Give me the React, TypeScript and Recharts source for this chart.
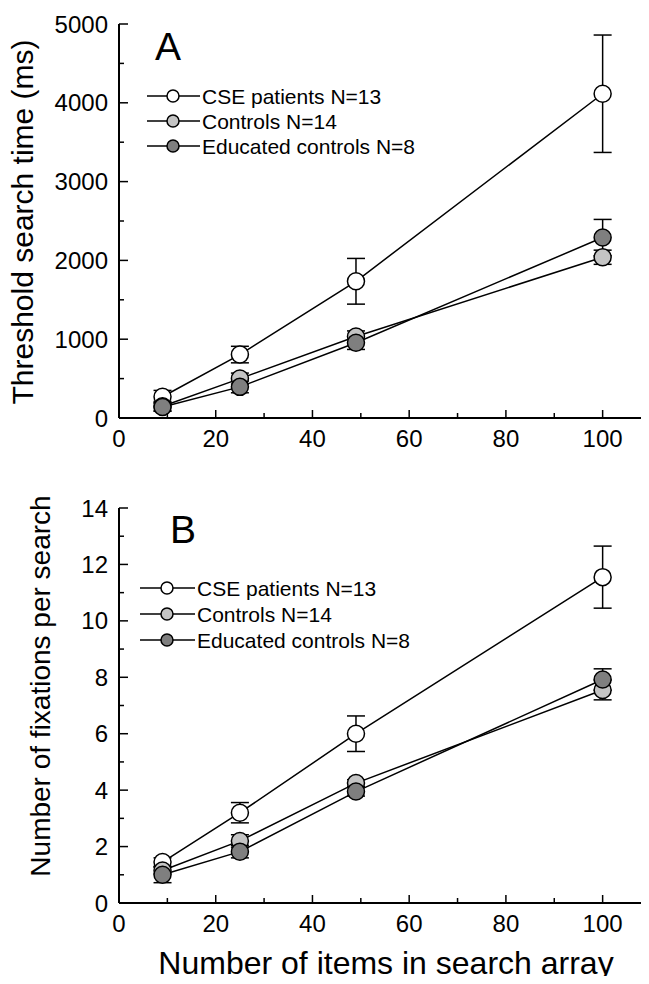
import React from "react";
import { LineChart, Line, XAxis, YAxis, ErrorBar } from "recharts";

// array sizes (number of items)
const items = [9, 25, 49, 100];

const groups = ["CSE patients N=13", "Controls N=14", "Educated controls N=8"];
const fills = ["#ffffff", "#c4c4c4", "#7f7f7f"];

// panel A: threshold search time (ms)
const timeCse = [270, 805, 1735, 4115];
const timeCseErr = [80, 105, 290, 745];
const timeCtl = [150, 500, 1035, 2040];
const timeCtlErr = [60, 70, 70, 90];
const timeEdu = [140, 395, 955, 2290];
const timeEduErr = [55, 75, 85, 230];

// panel B: fixations per search
const fixCse = [1.45, 3.2, 6.0, 11.55];
const fixCseErr = [0.15, 0.36, 0.63, 1.1];
const fixCtl = [1.15, 2.2, 4.25, 7.55];
const fixCtlErr = [0.12, 0.22, 0.12, 0.35];
const fixEdu = [1.0, 1.82, 3.95, 7.92];
const fixEduErr = [0.28, 0.22, 0.16, 0.38];

const xTicks = [0, 10, 20, 30, 40, 50, 60, 70, 80, 90, 100, 110];
const xLabels = [0, 20, 40, 60, 80, 100];
const timeTicks = [0, 500, 1000, 1500, 2000, 2500, 3000, 3500, 4000, 4500, 5000];
const timeLabels = [0, 1000, 2000, 3000, 4000, 5000];
const fixTicks = [0, 1, 2, 3, 4, 5, 6, 7, 8, 9, 10, 11, 12, 13, 14];
const fixLabels = [0, 2, 4, 6, 8, 10, 12, 14];

const font = "'Liberation Sans', Arial, sans-serif";

const rows = (a: number[], ae: number[], b: number[], be: number[], c: number[], ce: number[]) =>
  items.map((x, i) => ({ x, cse: a[i], cseErr: ae[i], ctl: b[i], ctlErr: be[i], edu: c[i], eduErr: ce[i] }));

const timeData = rows(timeCse, timeCseErr, timeCtl, timeCtlErr, timeEdu, timeEduErr);
const fixData = rows(fixCse, fixCseErr, fixCtl, fixCtlErr, fixEdu, fixEduErr);

const XTick = (p: any) => {
  const { x, y, payload } = p;
  const major = xLabels.includes(payload.value);
  return (
    <g>
      <line x1={x} x2={x} y1={y} y2={y - (major ? 8 : 5)} stroke="#000" strokeWidth={1.5} />
      {major && (
        <text x={x} y={y + 29} textAnchor="middle" fontSize={24} fontFamily={font} fill="#000">
          {payload.value}
        </text>
      )}
    </g>
  );
};

const makeYTick = (labels: number[]) => (p: any) => {
  const { x, y, payload } = p;
  const major = labels.includes(payload.value);
  return (
    <g>
      <line x1={x} x2={x + (major ? 9 : 5)} y1={y} y2={y} stroke="#000" strokeWidth={1.5} />
      {major && (
        <text x={x - 11} y={y + 8.5} textAnchor="end" fontSize={24} fontFamily={font} fill="#000">
          {payload.value}
        </text>
      )}
    </g>
  );
};

const dot = (fill: string) => ({ r: 8.5, fill, stroke: "#000", strokeWidth: 1.5 });
const axisLine = { stroke: "#000", strokeWidth: 2 };
const err = { width: 9, stroke: "#000", strokeWidth: 1.5 };

function Panel({ data, yMax, yTicks, yLabels, top, xAxisH, height }: any) {
  return (
    <LineChart width={651} height={height} data={data} margin={{ top, right: 0, bottom: 0, left: 0 }}>
      <XAxis
        type="number"
        dataKey="x"
        domain={[0, 110]}
        ticks={xTicks}
        interval={0}
        tickSize={0}
        tickMargin={0}
        tickLine={false}
        axisLine={axisLine}
        tick={XTick}
        height={xAxisH}
      />
      <YAxis
        type="number"
        domain={[0, yMax]}
        ticks={yTicks}
        interval={0}
        tickSize={0}
        tickMargin={0}
        tickLine={false}
        axisLine={axisLine}
        tick={makeYTick(yLabels)}
        width={119}
      />
      <Line dataKey="cse" stroke="#000" strokeWidth={1.5} dot={dot(fills[0])} isAnimationActive={false}>
        <ErrorBar dataKey="cseErr" {...err} />
      </Line>
      <Line dataKey="ctl" stroke="#000" strokeWidth={1.5} dot={dot(fills[1])} isAnimationActive={false} />
      <Line dataKey="edu" stroke="#000" strokeWidth={1.5} dot={dot(fills[2])} isAnimationActive={false} />
      <Line dataKey="ctl" stroke="none" dot={false} legendType="none" isAnimationActive={false}>
        <ErrorBar dataKey="ctlErr" {...err} />
      </Line>
      <Line dataKey="edu" stroke="none" dot={false} legendType="none" isAnimationActive={false}>
        <ErrorBar dataKey="eduErr" {...err} />
      </Line>
    </LineChart>
  );
}

function Legend({ x0, x1, cx, tx, y0, dy }: any) {
  return (
    <g>
      {groups.map((g, i) => (
        <g key={g}>
          <line x1={x0} x2={x1} y1={y0 + i * dy} y2={y0 + i * dy} stroke="#000" strokeWidth={1.5} />
          <circle cx={cx} cy={y0 + i * dy} r={6} fill={fills[i]} stroke="#000" strokeWidth={1.5} />
          <text x={tx} y={y0 + i * dy + 7.5} fontSize={21} fontFamily={font} fill="#000">
            {g}
          </text>
        </g>
      ))}
    </g>
  );
}

export default function App() {
  return (
    <div style={{ position: "relative", width: 649, height: 984, overflow: "hidden", margin: -8, background: "#fff" }}>
      <div style={{ position: "absolute", left: 0, top: 0 }}>
        <Panel data={timeData} yMax={5000} yTicks={timeTicks} yLabels={timeLabels} top={24} xAxisH={52} height={470} />
      </div>
      <div style={{ position: "absolute", left: 0, top: 480 }}>
        <Panel data={fixData} yMax={14} yTicks={fixTicks} yLabels={fixLabels} top={28} xAxisH={81} height={504} />
      </div>
      <svg width={649} height={984} style={{ position: "absolute", left: 0, top: 0, pointerEvents: "none" }}>
        <text x={155} y={60} fontSize={39} fontFamily={font}>A</text>
        <text x={170} y={543} fontSize={39} fontFamily={font}>B</text>
        <Legend x0={147} x1={200} cx={173} tx={202} y0={96} dy={25} />
        <Legend x0={140} x1={195} cx={167} tx={197} y0={588} dy={26} />
        <text transform="translate(33, 222) rotate(-90)" textAnchor="middle" fontSize={30} fontFamily={font}>
          Threshold search time (ms)
        </text>
        <text transform="translate(50, 686) rotate(-90)" textAnchor="middle" fontSize={28} fontFamily={font}>
          Number of fixations per search
        </text>
        <text x={386} y={974} textAnchor="middle" fontSize={32} fontFamily={font}>
          Number of items in search array
        </text>
      </svg>
    </div>
  );
}
